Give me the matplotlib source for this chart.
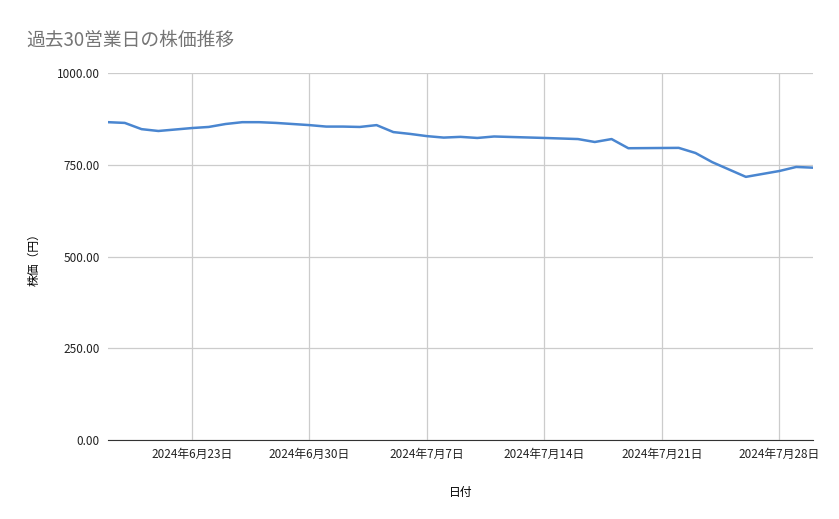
import numpy as np
import matplotlib.pyplot as plt
import matplotlib.dates as mdates
from datetime import date

plt.rcParams['font.family'] = ['Noto Sans CJK JP', 'DejaVu Sans']

# 日付と株価 (円)
dates = ["2024-06-18", "2024-06-19", "2024-06-20", "2024-06-21", "2024-06-23", "2024-06-24",
         "2024-06-25", "2024-06-26", "2024-06-27", "2024-06-28", "2024-06-30", "2024-07-01",
         "2024-07-02", "2024-07-03", "2024-07-04", "2024-07-05", "2024-07-06", "2024-07-07",
         "2024-07-08", "2024-07-09", "2024-07-10", "2024-07-11", "2024-07-14", "2024-07-16",
         "2024-07-17", "2024-07-18", "2024-07-19", "2024-07-22", "2024-07-23", "2024-07-24",
         "2024-07-26", "2024-07-28", "2024-07-29", "2024-07-30"]
prices = [866, 864, 847, 842, 850, 853, 861, 866, 866, 864, 858, 854,
          854, 853, 858, 839, 834, 828, 824, 826, 823, 827, 823, 820,
          812, 820, 795, 796, 782, 757, 717, 733, 744, 742]
tick_dates = ["2024-06-23", "2024-06-30", "2024-07-07", "2024-07-14", "2024-07-21", "2024-07-28"]

x = np.array(dates, dtype="datetime64[D]").astype("O")
ticks = np.array(tick_dates, dtype="datetime64[D]").astype("O")

fig = plt.figure(figsize=(8.39, 5.19), dpi=100)
ax = fig.add_axes([108 / 839, 1 - 440 / 519, 705 / 839, 367 / 519])
ax.plot(x, prices, color="#4a86d0", lw=1.8)

ax.set_xlim(date(2024, 6, 18), date(2024, 7, 30))
ax.set_ylim(0, 1000)
ax.set_yticks([0, 250, 500, 750, 1000])
ax.yaxis.set_major_formatter(plt.FuncFormatter(lambda v, p: f"{v:.2f}"))
ax.set_xticks(ticks)
ax.set_xticklabels([f"{d.year}年{d.month}月{d.day}日" for d in ticks])
ax.grid(color="#cccccc", lw=0.9)
for s in ["top", "right", "left"]:
    ax.spines[s].set_visible(False)
ax.spines["bottom"].set_color("#333333")
ax.tick_params(length=0, labelsize=8.5, colors="#222222", pad=6)
ax.set_xlabel("日付", fontsize=8.5, labelpad=18)
ax.set_ylabel("株価（円）", fontsize=8.5, labelpad=12)

fig.text(26 / 839, 1 - 40 / 519, "過去30営業日の株価推移", fontsize=13.5, color="#757575", va="center")

fig.savefig("out.png")
